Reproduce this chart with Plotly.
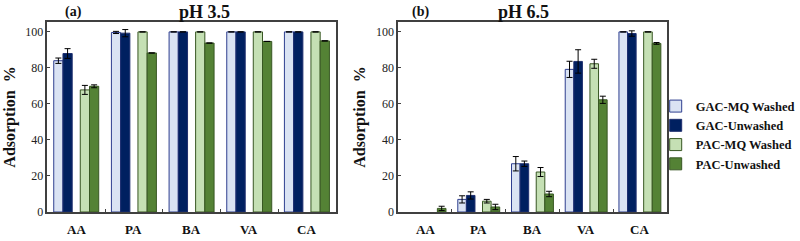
import plotly.graph_objects as go

categories = ["AA", "PA", "BA", "VA", "CA"]
series_names = ["GAC-MQ Washed", "GAC-Unwashed", "PAC-MQ Washed", "PAC-Unwashed"]

# pH 3.5 (None = no error bar shown)
a_gac_mq = [84, 99.7, 100, 100, 100]
a_gac_un = [88, 99.3, 100, 100, 100]
a_pac_mq = [67.8, 100, 100, 100, 100]
a_pac_un = [69.8, 88.3, 93.8, 94.7, 95.0]
a_gac_mq_err = [1.5, 0.6, None, None, None]
a_gac_un_err = [2.7, 2.0, None, None, None]
a_pac_mq_err = [2.5, None, None, None, None]
a_pac_un_err = [0.8, None, None, None, None]

# pH 6.5 (None = no visible bar)
b_gac_mq = [None, 7.0, 26.8, 79.2, 100]
b_gac_un = [None, 9.2, 26.8, 83.6, 99.1]
b_pac_mq = [None, 6.0, 22.2, 82.3, 100]
b_pac_un = [2.0, 2.8, 10.0, 62.3, 93.6]
b_gac_mq_err = [None, 2.0, 4.0, 4.5, None]
b_gac_un_err = [None, 2.0, 1.5, 6.5, 1.5]
b_pac_mq_err = [None, 1.0, 2.5, 2.5, None]
b_pac_un_err = [1.2, 1.5, 1.5, 2.0, 0.5]

fills = ["#dae3f3", "#002060", "#c5e0b4", "#548235"]
lines = ["#2f3f8f", "#1f2f6f", "#385723", "#385723"]
offsets = [-0.31, -0.15, 0.15, 0.31]
bar_w = 0.16

FONT = "Liberation Serif"
fig = go.Figure()

panels = [
    ("x", "y", [a_gac_mq, a_gac_un, a_pac_mq, a_pac_un],
     [a_gac_mq_err, a_gac_un_err, a_pac_mq_err, a_pac_un_err], False),
    ("x2", "y2", [b_gac_mq, b_gac_un, b_pac_mq, b_pac_un],
     [b_gac_mq_err, b_gac_un_err, b_pac_mq_err, b_pac_un_err], True),
]

for xa, ya, vals, errs, show in panels:
    for i in range(4):
        xs = [k + offsets[i] for k in range(len(categories))]
        fig.add_trace(go.Bar(
            x=xs, y=vals[i], width=bar_w, name="<b>%s</b>" % series_names[i],
            marker=dict(color=fills[i], line=dict(color=lines[i], width=1)),
            error_y=dict(type="data", array=errs[i], color="black", thickness=1, width=3, visible=True),
            xaxis=xa, yaxis=ya, showlegend=show,
        ))

axis_common = dict(
    showline=True, linecolor="#404040", linewidth=1.5, mirror=True,
    showgrid=False, zeroline=False, ticks="inside", ticklen=3, tickcolor="#404040",
)
boundaries = [k + 0.5 for k in range(len(categories) - 1)]

for xa, ya, dom in [("xaxis", "y", [0.06, 0.425]), ("xaxis2", "y2", [0.504, 0.844])]:
    fig.update_layout({xa: dict(
        domain=dom, range=[-0.5, 4.5], tickmode="array", tickvals=boundaries,
        ticktext=[""] * len(boundaries), anchor=ya, **axis_common)})

for ya, xa in [("yaxis", "x"), ("yaxis2", "x2")]:
    fig.update_layout({ya: dict(
        domain=[0.094, 0.906], range=[0, 105.5], tickvals=[0, 20, 40, 60, 80, 100],
        anchor=xa, tickfont=dict(family=FONT, size=12, color="#222"),
        title=dict(text="<b>Adsorption  %</b>", font=dict(family=FONT, size=16, color="#111"), standoff=6),
        **axis_common)})

annotations = []
for xr, yr in [("x", "y"), ("x2", "y2")]:
    for k, c in enumerate(categories):
        annotations.append(dict(
            x=k, y=0, xref=xr, yref=yr, text="<b>%s</b>" % c, yanchor="top",
            showarrow=False, yshift=-8, font=dict(family=FONT, size=13, color="#111")))

for txt, xp, size in [("(a)", 74, 14), ("pH 3.5", 207, 18), ("(b)", 426, 14), ("pH 6.5", 530, 18)]:
    annotations.append(dict(
        x=xp / 800, y=1 - 12 / 241, xref="paper", yref="paper", text="<b>%s</b>" % txt,
        xanchor="center", yanchor="middle", showarrow=False,
        font=dict(family=FONT, size=size, color="#111")))

fig.update_layout(
    width=800, height=241, margin=dict(l=0, r=0, t=0, b=0),
    paper_bgcolor="white", plot_bgcolor="white",
    barmode="overlay", annotations=annotations,
    legend=dict(x=664 / 800, xanchor="left", y=1 - 139 / 241, yanchor="middle",
                font=dict(family=FONT, size=12.5, color="#111"),
                bgcolor="rgba(0,0,0,0)", tracegroupgap=0, itemclick=False),
    font=dict(family=FONT),
)

fig.write_html("out.html")
